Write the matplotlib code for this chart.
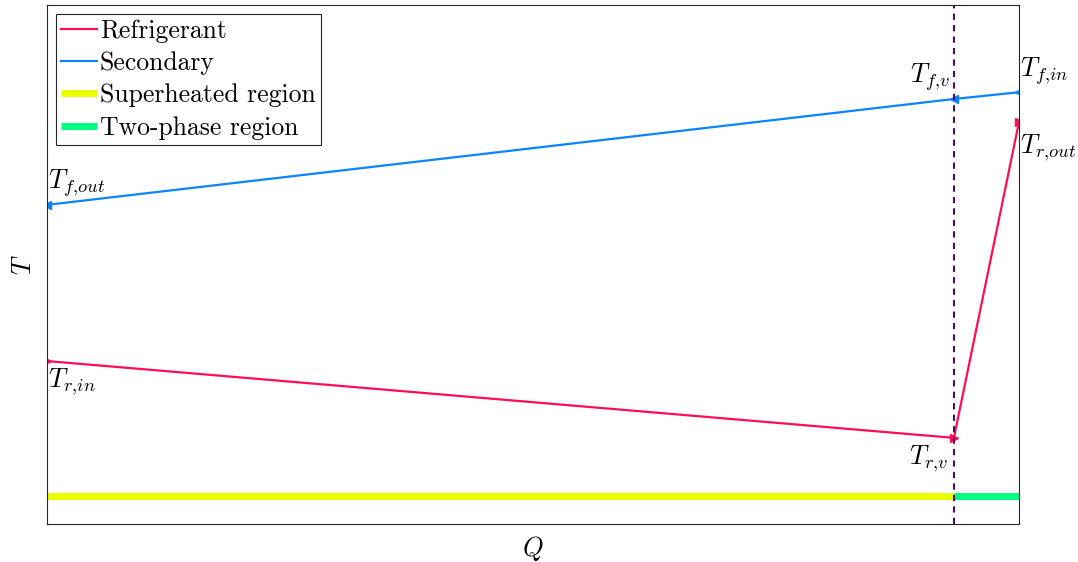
import matplotlib
matplotlib.use("Agg")
import matplotlib.pyplot as plt

plt.rcParams['font.family'] = 'serif'
plt.rcParams['font.serif'] = ['cmr10']
plt.rcParams['mathtext.fontset'] = 'cm'
plt.rcParams['axes.formatter.use_mathtext'] = True

# normalised heat duty and temperature
q_ref = [0.0, 0.933, 1.0]
t_ref = [0.314, 0.166, 0.775]
q_sec = [0.0, 0.933, 1.0]
t_sec = [0.615, 0.819, 0.832]
q_split = 0.933
band_y = 0.054

ref_labels = [r'$T_{r{,}in}$', r'$T_{r{,}v}$', r'$T_{r{,}out}$']
sec_labels = [r'$T_{f{,}out}$', r'$T_{f{,}v}$', r'$T_{f{,}in}$']

c_ref = '#ff0d57'
c_sec = '#0a84ff'
c_sh = '#eaff00'
c_tp = '#00ff80'

fig = plt.figure(figsize=(10.78, 5.62), dpi=100)
ax = fig.add_axes([0.0436, 0.0676, 0.9017, 0.9234])

ax.plot(q_ref, t_ref, color=c_ref, lw=1.6, label='Refrigerant')
ax.plot(q_sec, t_sec, color=c_sec, lw=1.6, label='Secondary')
ax.plot(q_ref, t_ref, ls='none', color=c_ref, marker='>', ms=6)
ax.plot(q_sec, t_sec, ls='none', color=c_sec, marker='<', ms=6)
ax.plot([0, q_split], [band_y, band_y], color=c_sh, lw=5, solid_capstyle='butt', label='Superheated region')
ax.plot([q_split, 1], [band_y, band_y], color=c_tp, lw=5, solid_capstyle='butt', label='Two-phase region')
ax.axvline(q_split, color='#4a0d60', lw=1.5, ls=(0, (3, 2.5)))

fs = 19
ax.annotate(sec_labels[0], (q_sec[0], t_sec[0]), xytext=(1, 4), textcoords='offset points',
            fontsize=fs, ha='left', va='bottom')
ax.annotate(sec_labels[1], (q_sec[1], t_sec[1]), xytext=(-3, 4), textcoords='offset points',
            fontsize=fs, ha='right', va='bottom')
ax.annotate(sec_labels[2], (q_sec[2], t_sec[2]), xytext=(1, 4), textcoords='offset points',
            fontsize=fs, ha='left', va='bottom')
ax.annotate(ref_labels[0], (q_ref[0], t_ref[0]), xytext=(1, -4), textcoords='offset points',
            fontsize=fs, ha='left', va='top')
ax.annotate(ref_labels[1], (q_ref[1], t_ref[1]), xytext=(-4, -4), textcoords='offset points',
            fontsize=fs, ha='right', va='top')
ax.annotate(ref_labels[2], (q_ref[2], t_ref[2]), xytext=(1, -8), textcoords='offset points',
            fontsize=fs, ha='left', va='top')

ax.set_xlim(0, 1)
ax.set_ylim(0, 1)
ax.set_xticks([])
ax.set_yticks([])
for s in ax.spines.values():
    s.set_linewidth(0.8)
    s.set_color('#262626')
ax.set_xlabel(r'$Q$', fontsize=fs, labelpad=7)
ax.set_ylabel(r'$T$', fontsize=fs, labelpad=8)

leg = ax.legend(loc='upper left', fontsize=18.5, handlelength=1.4, handletextpad=0.1,
                borderpad=0.2, labelspacing=0.33, borderaxespad=0.35, fancybox=False,
                framealpha=1, edgecolor='#262626')
leg.get_frame().set_linewidth(0.8)

fig.savefig('out.png', dpi=100)
